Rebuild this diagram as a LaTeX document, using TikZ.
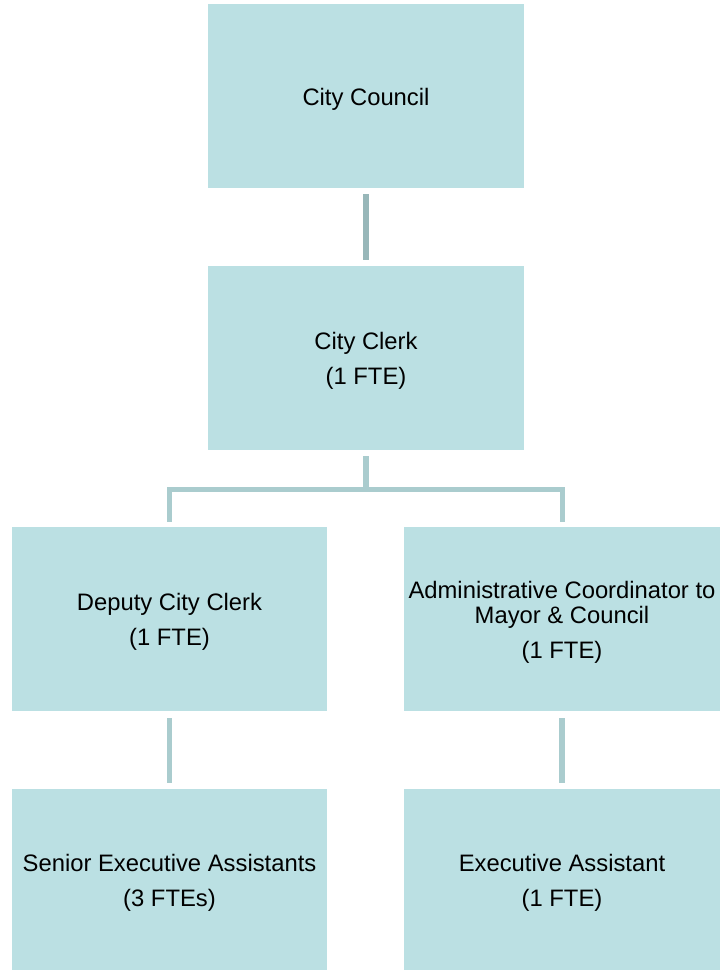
\documentclass[tikz,border=0pt]{standalone}
\usepackage{fontspec}
\setmainfont{Liberation Sans}
\definecolor{boxfill}{HTML}{BBE0E3}
\definecolor{linkA}{HTML}{98B7B9}
\definecolor{linkB}{HTML}{AACCCE}
\begin{document}
\begin{tikzpicture}[x=1pt,y=-1pt,
  orgbox/.style={rectangle, fill=boxfill, draw=none, minimum width=316pt, minimum height=184pt,
    inner sep=0pt},
  boxtext/.style={inner sep=0pt, align=center, font=\fontsize{23.8}{35}\selectfont, yshift=-3pt},
  linkdark/.style={draw=linkA, line width=6pt},
  linklight/.style={draw=linkB, line width=5.5pt}]
\useasboundingbox (0,0) rectangle (720,970);
\node[orgbox] (council) at (366,96) {};
\node[orgbox] (clerk) at (366,358) {};
\node[orgbox, minimum width=315pt] (deputy) at (169.5,619) {};
\node[orgbox] (admin) at (562,619) {};
\node[orgbox, minimum width=315pt] (senior) at (169.5,881) {};
\node[orgbox] (exec) at (562,881) {};
\node[boxtext] (councilT) at (council) {City Council};
\node[boxtext] (clerkT) at (clerk) {City Clerk\\(1 FTE)};
\node[boxtext] (deputyT) at (deputy) {Deputy City Clerk\\(1 FTE)};
\node[boxtext] (adminT) at (admin) {Administrative Coordinator to\\[-10pt]Mayor \& Council\\(1 FTE)};
\node[boxtext] (seniorT) at ([yshift=1pt]senior) {Senior Executive Assistants\\(3 FTEs)};
\node[boxtext] (execT) at ([yshift=1pt]exec) {Executive Assistant\\(1 FTE)};
\draw[linkdark] ([yshift=-6pt]council.south) -- ([yshift=6pt]clerk.north);
\coordinate (junc) at (366,489.5);
\coordinate (jl) at (169.5,489.5);
\coordinate (jr) at (562.5,489.5);
\draw[linklight] ([yshift=-6pt]clerk.south) -- (junc);
\draw[linklight, line join=miter] ([yshift=5pt]deputy.north -| jl) -- (jl) -- (jr) -- ([yshift=5pt]admin.north -| jr);
\draw[linklight] ([yshift=-7pt]deputy.south) -- ([yshift=6pt]senior.north);
\draw[linklight] ([yshift=-7pt]admin.south) -- ([yshift=6pt]exec.north);
\end{tikzpicture}
\end{document}
